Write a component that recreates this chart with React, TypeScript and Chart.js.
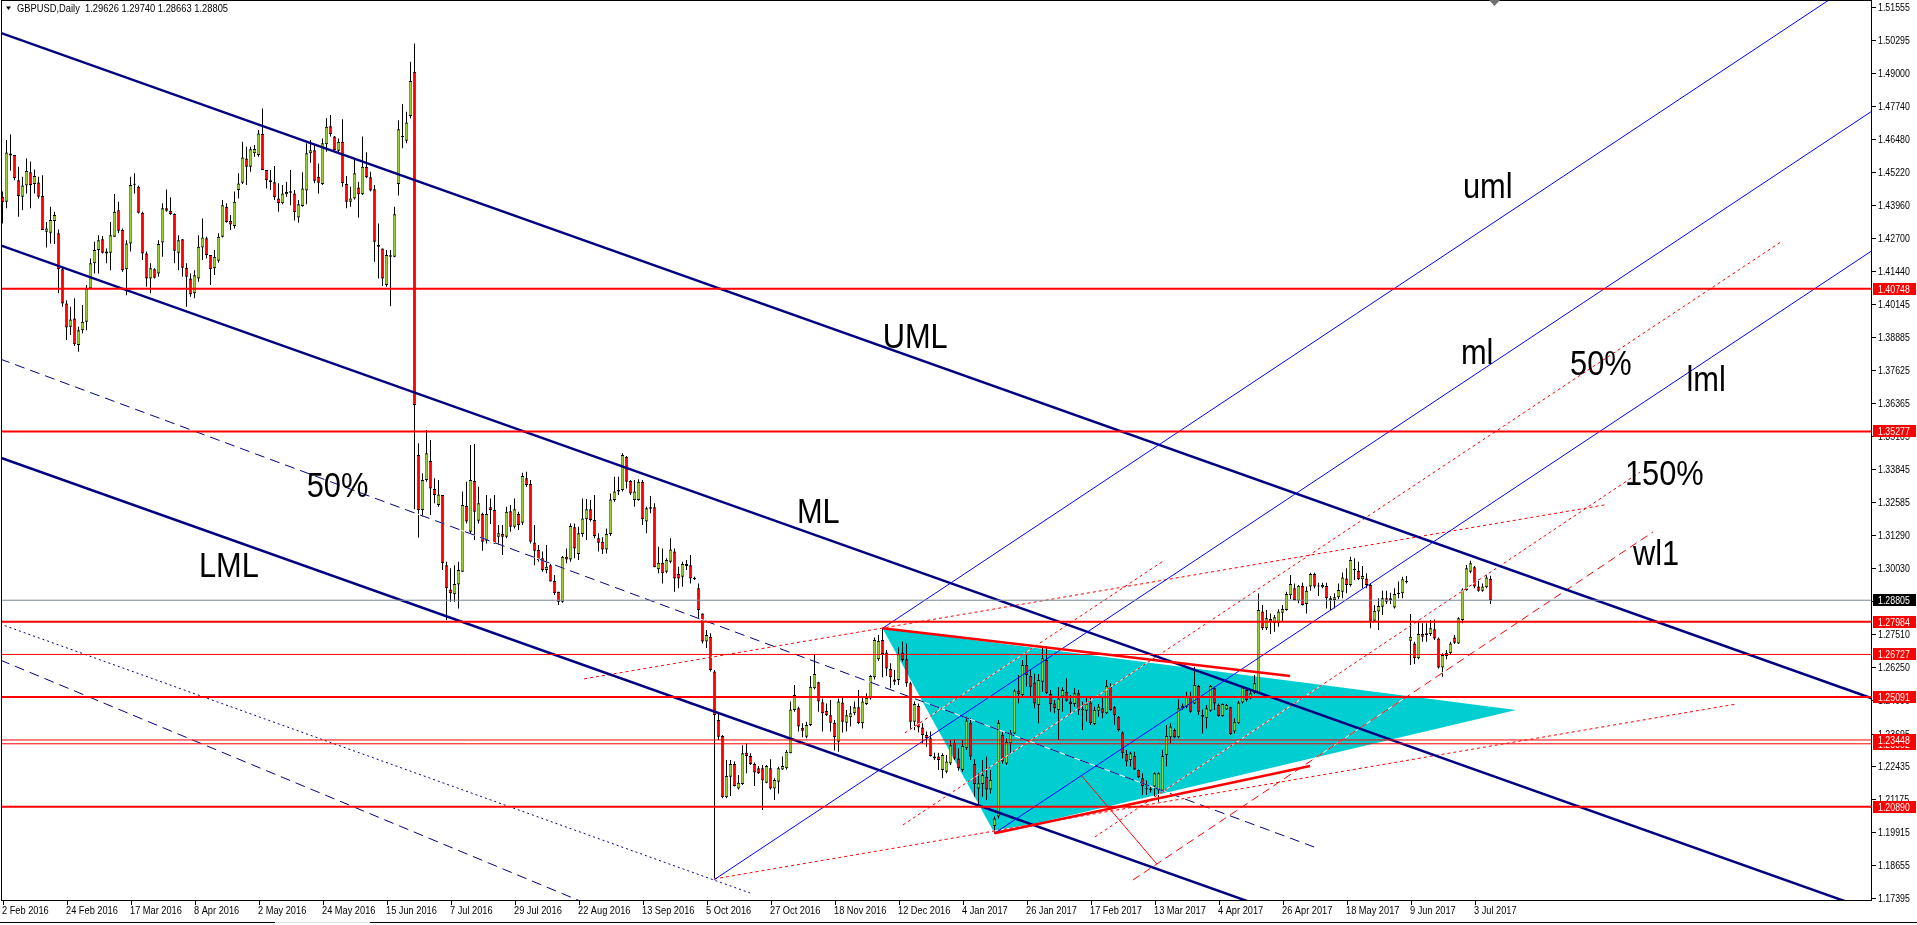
import React, { useEffect, useRef } from "react";
import { Chart, registerables } from "chart.js";

Chart.register(...registerables);

// GBPUSD daily, bar 0 = 2 Feb 2016, bar 372 = 7 Jul 2017
const symbolTitle = "GBPUSD,Daily";
const lastBarText = "1.29626 1.29740 1.28663 1.28805";

const opens = [
  1.4427, 1.4408, 1.4593, 1.4587, 1.4491, 1.4427, 1.447, 1.4521, 1.4476, 1.4482,
  1.443, 1.4293, 1.4289, 1.4334, 1.4287, 1.4149, 1.4018, 1.3929, 1.3961, 1.3859,
  1.3916, 1.3948, 1.4076, 1.4172, 1.4223, 1.4264, 1.4217, 1.4213, 1.4274, 1.4376,
  1.43, 1.4149, 1.4248, 1.4473, 1.4466, 1.4366, 1.421, 1.4114, 1.4149, 1.4133,
  1.4252, 1.4383, 1.4374, 1.4361, 1.4213, 1.4264, 1.4155, 1.4114, 1.4057, 1.4114,
  1.4233, 1.4268, 1.4204, 1.4153, 1.4182, 1.4274, 1.4389, 1.4334, 1.4315, 1.4453,
  1.4481, 1.4574, 1.4542, 1.4594, 1.4587, 1.4668, 1.453, 1.4491, 1.4483, 1.4421,
  1.4402, 1.4437, 1.4443, 1.444, 1.4348, 1.4392, 1.4451, 1.4594, 1.4606, 1.4504,
  1.4476, 1.4629, 1.4698, 1.4658, 1.4604, 1.4638, 1.4476, 1.4408, 1.4421, 1.4463,
  1.4437, 1.4542, 1.4502, 1.4456, 1.4242, 1.4229, 1.4089, 1.4197, 1.4197, 1.4476,
  1.466, 1.4642, 1.4737, 1.4907, 1.3437, 1.3226, 1.3341, 1.3414, 1.3307, 1.3246,
  1.3284, 1.3015, 1.2922, 1.2903, 1.2941, 1.299, 1.3242, 1.3143, 1.3338, 1.3185,
  1.3211, 1.3109, 1.3237, 1.3226, 1.3124, 1.3134, 1.3124, 1.3222, 1.3162, 1.3211,
  1.3178, 1.3348, 1.3326, 1.3102, 1.3073, 1.3041, 1.2996, 1.3015, 1.2954, 1.2913,
  1.2875, 1.3047, 1.3037, 1.316, 1.3058, 1.3134, 1.3191, 1.3229, 1.3188, 1.3118,
  1.3105, 1.3075, 1.3134, 1.3265, 1.3297, 1.3303, 1.3431, 1.3338, 1.3265, 1.3265,
  1.3335, 1.3182, 1.3231, 1.3237, 1.2999, 1.3024, 1.299, 1.3028, 1.3067, 1.2981,
  1.2971, 1.3019, 1.3015, 1.2967, 1.2926, 1.283, 1.2722, 1.2741, 1.2607, 1.2421,
  1.236, 1.2125, 1.2204, 1.2253, 1.2159, 1.2176, 1.2296, 1.2283, 1.2253, 1.2236,
  1.2236, 1.2181, 1.2236, 1.2159, 1.2185, 1.2232, 1.2236, 1.2294, 1.246, 1.2466,
  1.2392, 1.2357, 1.2402, 1.2543, 1.2566, 1.2489, 1.2457, 1.244, 1.2411, 1.2338,
  1.2488, 1.2411, 1.2432, 1.2447, 1.247, 1.2409, 1.2483, 1.2504, 1.2585, 1.2654,
  1.2728, 1.268, 1.2617, 1.2577, 1.2575, 1.268, 1.2654, 1.2562, 1.2415, 1.2475,
  1.2393, 1.2364, 1.2351, 1.2281, 1.2281, 1.223, 1.2223, 1.2255, 1.2334, 1.2274,
  1.223, 1.2313, 1.2411, 1.2253, 1.2159, 1.2176, 1.2204, 1.2155, 1.2015, 1.2051,
  1.2364, 1.2255, 1.2332, 1.237, 1.2534, 1.2517, 1.2632, 1.259, 1.2564, 1.2479,
  1.2568, 1.2651, 1.2521, 1.2485, 1.246, 1.2511, 1.253, 1.2492, 1.2483, 1.2524,
  1.2463, 1.2457, 1.2488, 1.2406, 1.2457, 1.2466, 1.2447, 1.2549, 1.247, 1.2434,
  1.2373, 1.2291, 1.2268, 1.2283, 1.223, 1.2198, 1.2159, 1.2159, 1.2166, 1.2153,
  1.215, 1.2287, 1.2355, 1.2383, 1.2355, 1.2466, 1.2472, 1.2511, 1.2485, 1.2552,
  1.2441, 1.2428, 1.2457, 1.2543, 1.2479, 1.2437, 1.2462, 1.247, 1.2377, 1.2409,
  1.2488, 1.2536, 1.2504, 1.2524, 1.2524, 1.2837, 1.2773, 1.2809, 1.2792, 1.2792,
  1.2833, 1.2843, 1.29, 1.2926, 1.2879, 1.2936, 1.2866, 1.2933, 1.2981, 1.2936,
  1.293, 1.2935, 1.2881, 1.2881, 1.2892, 1.2913, 1.2964, 1.2939, 1.2999, 1.2994,
  1.2961, 1.2964, 1.2939, 1.2802, 1.2837, 1.2856, 1.2888, 1.2881, 1.2853, 1.2904,
  1.2907, 1.2949, 1.2725, 1.2715, 1.2658, 1.2751, 1.2747, 1.2751, 1.2769, 1.2734,
  1.2623, 1.2667, 1.2677, 1.2738, 1.2715, 1.2805, 1.292, 1.299, 1.3007, 1.2933,
  1.2917, 1.293, 1.29626,
];

const highs = [
  1.4447, 1.4645, 1.4666, 1.4587, 1.4542, 1.4504, 1.4574, 1.4562, 1.4532, 1.4504,
  1.451, 1.4331, 1.4389, 1.437, 1.4302, 1.4159, 1.4031, 1.4006, 1.4038, 1.3929,
  1.4012, 1.4089, 1.4191, 1.4255, 1.428, 1.4277, 1.4229, 1.4331, 1.4438, 1.4408,
  1.4306, 1.4261, 1.4504, 1.4517, 1.447, 1.437, 1.4217, 1.4172, 1.4153, 1.4261,
  1.4402, 1.4455, 1.4425, 1.4363, 1.428, 1.4265, 1.4172, 1.4133, 1.4146, 1.428,
  1.4344, 1.4274, 1.4204, 1.4223, 1.4287, 1.4415, 1.4402, 1.4357, 1.4447, 1.4517,
  1.4638, 1.4619, 1.4619, 1.4626, 1.4683, 1.4766, 1.453, 1.453, 1.4545, 1.4479,
  1.4472, 1.4485, 1.453, 1.4453, 1.4415, 1.4521, 1.4632, 1.4645, 1.4626, 1.4555,
  1.4651, 1.4728, 1.4741, 1.466, 1.4651, 1.4724, 1.4507, 1.4466, 1.4574, 1.4485,
  1.4658, 1.4598, 1.4523, 1.4472, 1.4325, 1.4229, 1.4223, 1.4223, 1.4389, 1.4721,
  1.4783, 1.4753, 1.4945, 1.5015, 1.3482, 1.3367, 1.3533, 1.3495, 1.3348, 1.3341,
  1.3284, 1.3028, 1.3003, 1.3015, 1.3028, 1.3297, 1.3335, 1.3476, 1.3479, 1.3316,
  1.3216, 1.3284, 1.3271, 1.3284, 1.3169, 1.3169, 1.3239, 1.3246, 1.3271, 1.322,
  1.3369, 1.3373, 1.3341, 1.3169, 1.3092, 1.3067, 1.3092, 1.3022, 1.2977, 1.2913,
  1.305, 1.3079, 1.3175, 1.3175, 1.3162, 1.3271, 1.3269, 1.3265, 1.3284, 1.3137,
  1.3122, 1.3156, 1.329, 1.3354, 1.3354, 1.3444, 1.3433, 1.3341, 1.3341, 1.3344,
  1.3341, 1.3239, 1.328, 1.3252, 1.3086, 1.3079, 1.3041, 1.3118, 1.3079, 1.3009,
  1.3028, 1.3035, 1.3054, 1.2971, 1.2945, 1.283, 1.2766, 1.2754, 1.2613, 1.2447,
  1.2364, 1.2268, 1.2268, 1.2262, 1.2211, 1.2325, 1.2332, 1.2294, 1.2258, 1.2245,
  1.2249, 1.2249, 1.2271, 1.2198, 1.2242, 1.2281, 1.2306, 1.2492, 1.2556, 1.2472,
  1.2409, 1.2415, 1.259, 1.2674, 1.2568, 1.2504, 1.2485, 1.2498, 1.2421, 1.2504,
  1.2511, 1.246, 1.2475, 1.2492, 1.2536, 1.2513, 1.2524, 1.2594, 1.2738, 1.2747,
  1.2773, 1.269, 1.2639, 1.2613, 1.27, 1.2722, 1.2715, 1.2568, 1.2492, 1.2485,
  1.2409, 1.2377, 1.2377, 1.2296, 1.2296, 1.2294, 1.2287, 1.2345, 1.2347, 1.2313,
  1.2345, 1.2434, 1.2428, 1.2271, 1.2217, 1.2268, 1.2281, 1.223, 1.2051, 1.2421,
  1.2377, 1.2351, 1.2383, 1.2539, 1.2594, 1.2651, 1.2674, 1.2613, 1.26, 1.2598,
  1.2703, 1.2703, 1.2536, 1.2498, 1.2547, 1.2547, 1.2581, 1.2517, 1.2543, 1.2536,
  1.2492, 1.2511, 1.2508, 1.2472, 1.2483, 1.2508, 1.2575, 1.2562, 1.2475, 1.2437,
  1.2377, 1.2306, 1.23, 1.23, 1.2232, 1.2217, 1.2189, 1.2168, 1.222, 1.222,
  1.2306, 1.2402, 1.2409, 1.2389, 1.2501, 1.2485, 1.253, 1.253, 1.2626, 1.2556,
  1.2462, 1.2479, 1.2556, 1.2549, 1.2485, 1.2485, 1.2483, 1.2472, 1.2428, 1.2495,
  1.2552, 1.2547, 1.2536, 1.2594, 1.2907, 1.2862, 1.2843, 1.283, 1.2824, 1.2846,
  1.2862, 1.2913, 1.2977, 1.2945, 1.2939, 1.2948, 1.2933, 1.2986, 1.2986, 1.2948,
  1.2948, 1.2948, 1.2897, 1.2907, 1.2945, 1.2987, 1.3003, 1.3047, 1.3041, 1.3028,
  1.3012, 1.2984, 1.2945, 1.2862, 1.2888, 1.2917, 1.2917, 1.2909, 1.2926, 1.2952,
  1.2971, 1.2973, 1.2828, 1.2721, 1.2805, 1.2792, 1.2792, 1.2805, 1.2807, 1.2738,
  1.2677, 1.269, 1.2721, 1.2747, 1.2815, 1.2926, 1.3016, 1.3032, 1.3012, 1.2961,
  1.2945, 1.298, 1.2974,
];

const lows = [
  1.4325, 1.4383, 1.4527, 1.4491, 1.4351, 1.4376, 1.444, 1.4383, 1.444, 1.4421,
  1.43, 1.4233, 1.4248, 1.4246, 1.4057, 1.4006, 1.3878, 1.3897, 1.3855, 1.3833,
  1.3903, 1.3916, 1.4076, 1.4133, 1.4133, 1.421, 1.4172, 1.4146, 1.4274, 1.4287,
  1.414, 1.405, 1.4217, 1.444, 1.4363, 1.4185, 1.4082, 1.4057, 1.4114, 1.4121,
  1.4197, 1.437, 1.4357, 1.4172, 1.4146, 1.4121, 1.4006, 1.4044, 1.4038, 1.4101,
  1.4185, 1.4191, 1.4089, 1.4127, 1.4174, 1.4271, 1.4328, 1.43, 1.4306, 1.4421,
  1.4476, 1.4472, 1.4523, 1.4581, 1.4581, 1.453, 1.4459, 1.4453, 1.4415, 1.437,
  1.4399, 1.4427, 1.4395, 1.4336, 1.4328, 1.4389, 1.4399, 1.4558, 1.4479, 1.444,
  1.4472, 1.46, 1.4658, 1.4604, 1.4591, 1.4466, 1.4383, 1.4389, 1.4417, 1.4348,
  1.4434, 1.4498, 1.4447, 1.4178, 1.4114, 1.4085, 1.4082, 1.4008, 1.4195, 1.4432,
  1.4613, 1.4632, 1.4728, 1.3229, 1.3121, 1.3201, 1.3335, 1.3207, 1.3252, 1.3239,
  1.2996, 1.2805, 1.2875, 1.2875, 1.2849, 1.299, 1.3175, 1.3137, 1.3111, 1.3175,
  1.307, 1.3098, 1.3173, 1.3096, 1.3092, 1.3054, 1.3118, 1.3143, 1.3156, 1.315,
  1.3169, 1.3316, 1.3098, 1.3015, 1.3028, 1.299, 1.2984, 1.2952, 1.2901, 1.2862,
  1.2871, 1.3022, 1.3028, 1.3041, 1.3035, 1.3124, 1.3111, 1.3182, 1.3118, 1.3067,
  1.3058, 1.306, 1.3127, 1.3258, 1.3284, 1.3297, 1.3309, 1.3284, 1.3239, 1.3262,
  1.3169, 1.3137, 1.3214, 1.3007, 1.2984, 1.2945, 1.2984, 1.3022, 1.2913, 1.2926,
  1.2932, 1.2996, 1.2945, 1.2958, 1.2811, 1.2715, 1.2697, 1.2607, 1.181, 1.2345,
  1.2121, 1.2121, 1.213, 1.2166, 1.2155, 1.2172, 1.2217, 1.2249, 1.2168, 1.2214,
  1.2076, 1.2179, 1.2155, 1.2115, 1.214, 1.223, 1.2232, 1.2294, 1.2453, 1.2377,
  1.2355, 1.2351, 1.2398, 1.2539, 1.2453, 1.2377, 1.2437, 1.2377, 1.2304, 1.23,
  1.2373, 1.2377, 1.2396, 1.244, 1.2406, 1.2389, 1.2479, 1.25, 1.2577, 1.2649,
  1.2585, 1.259, 1.2543, 1.2556, 1.2556, 1.2645, 1.2549, 1.2383, 1.2383, 1.2373,
  1.2332, 1.2319, 1.2281, 1.2268, 1.223, 1.2198, 1.2217, 1.2249, 1.2268, 1.2227,
  1.2223, 1.2306, 1.2268, 1.2127, 1.2096, 1.2127, 1.2115, 1.214, 1.1987, 1.2044,
  1.2255, 1.2249, 1.2294, 1.2368, 1.2485, 1.2511, 1.2549, 1.2511, 1.2466, 1.2409,
  1.253, 1.2521, 1.2453, 1.2447, 1.2345, 1.2453, 1.2492, 1.2444, 1.2472, 1.2441,
  1.2383, 1.2415, 1.2402, 1.2402, 1.2434, 1.2428, 1.2444, 1.2457, 1.2402, 1.2377,
  1.2274, 1.2243, 1.2243, 1.223, 1.2198, 1.2134, 1.2134, 1.2143, 1.2127, 1.2108,
  1.2147, 1.2243, 1.2332, 1.2351, 1.2351, 1.246, 1.2466, 1.2449, 1.2483, 1.2441,
  1.237, 1.2389, 1.2453, 1.246, 1.2434, 1.2434, 1.246, 1.2364, 1.237, 1.2406,
  1.2485, 1.2492, 1.2501, 1.2521, 1.2521, 1.2766, 1.2766, 1.2751, 1.276, 1.2779,
  1.2798, 1.284, 1.2884, 1.2879, 1.2869, 1.286, 1.283, 1.2917, 1.2926, 1.2897,
  1.2926, 1.2849, 1.2843, 1.2849, 1.2884, 1.2888, 1.2907, 1.2933, 1.2958, 1.2958,
  1.2926, 1.2926, 1.2773, 1.2798, 1.2766, 1.2824, 1.2866, 1.2866, 1.2849, 1.2888,
  1.2888, 1.2945, 1.2632, 1.2636, 1.2654, 1.2721, 1.2721, 1.2743, 1.2728, 1.2619,
  1.2587, 1.2654, 1.2671, 1.2713, 1.2713, 1.2792, 1.2917, 1.2984, 1.2926, 1.2913,
  1.2913, 1.2926, 1.28663,
];

const closes = [
  1.4406, 1.4597, 1.4585, 1.4498, 1.443, 1.447, 1.4526, 1.4472, 1.4507, 1.4427,
  1.43, 1.4306, 1.4338, 1.4357, 1.4149, 1.4018, 1.3926, 1.3957, 1.3862, 1.3916,
  1.3948, 1.4076, 1.4172, 1.4223, 1.4261, 1.4213, 1.421, 1.428, 1.437, 1.4297,
  1.4146, 1.4248, 1.4472, 1.4476, 1.4366, 1.421, 1.4114, 1.4153, 1.4117, 1.4246,
  1.4383, 1.4374, 1.4361, 1.422, 1.4261, 1.4155, 1.4121, 1.4054, 1.4126, 1.4236,
  1.4271, 1.4204, 1.4149, 1.4197, 1.4274, 1.4395, 1.4331, 1.4321, 1.4408, 1.4478,
  1.4578, 1.4542, 1.4609, 1.461, 1.467, 1.453, 1.4491, 1.4483, 1.4425, 1.4402,
  1.444, 1.4446, 1.4448, 1.4368, 1.4399, 1.4459, 1.4594, 1.4606, 1.4489, 1.4481,
  1.4632, 1.4696, 1.4668, 1.4606, 1.4638, 1.4479, 1.4408, 1.4421, 1.4517, 1.4437,
  1.4542, 1.4502, 1.4451, 1.4255, 1.4236, 1.4114, 1.4204, 1.4203, 1.436, 1.4686,
  1.4655, 1.4712, 1.4871, 1.3629, 1.3226, 1.3341, 1.3444, 1.3309, 1.3284, 1.3286,
  1.3022, 1.2926, 1.2907, 1.2943, 1.2996, 1.3246, 1.3182, 1.3341, 1.322, 1.3252,
  1.3105, 1.3211, 1.3226, 1.3098, 1.3137, 1.3124, 1.322, 1.3162, 1.3229, 1.3169,
  1.3357, 1.3322, 1.3105, 1.307, 1.3035, 1.2996, 1.3009, 1.2952, 1.2907, 1.2875,
  1.3047, 1.3037, 1.3165, 1.3079, 1.3137, 1.3194, 1.3229, 1.3188, 1.3127, 1.3101,
  1.3075, 1.3134, 1.3267, 1.3297, 1.3303, 1.3437, 1.3335, 1.329, 1.3297, 1.3335,
  1.3191, 1.3233, 1.3237, 1.3007, 1.3024, 1.2984, 1.3035, 1.3075, 1.2964, 1.2964,
  1.3019, 1.3012, 1.2964, 1.2961, 1.2843, 1.2722, 1.2747, 1.2613, 1.244, 1.2357,
  1.2125, 1.2207, 1.2253, 1.2168, 1.2181, 1.2294, 1.2283, 1.2253, 1.222, 1.2217,
  1.2189, 1.2245, 1.2159, 1.2191, 1.2236, 1.2245, 1.23, 1.2462, 1.2517, 1.2396,
  1.238, 1.2402, 1.2549, 1.2598, 1.2492, 1.2447, 1.244, 1.2411, 1.2355, 1.2492,
  1.2415, 1.244, 1.2447, 1.247, 1.2409, 1.2492, 1.2507, 1.259, 1.2728, 1.2725,
  1.2674, 1.2619, 1.2585, 1.2568, 1.2674, 1.2651, 1.2562, 1.2415, 1.2483, 1.2393,
  1.2364, 1.2351, 1.2283, 1.2274, 1.2268, 1.2287, 1.2262, 1.2325, 1.2274, 1.2236,
  1.2322, 1.2419, 1.2281, 1.2176, 1.2179, 1.2211, 1.2155, 1.2191, 1.2044, 1.2411,
  1.2262, 1.2338, 1.2373, 1.2534, 1.2521, 1.2632, 1.2594, 1.2549, 1.2485, 1.2575,
  1.2658, 1.2524, 1.2483, 1.2466, 1.2504, 1.2536, 1.2495, 1.2483, 1.2524, 1.246,
  1.246, 1.2485, 1.2409, 1.246, 1.2472, 1.2449, 1.2552, 1.246, 1.2441, 1.2383,
  1.2294, 1.2262, 1.2294, 1.2232, 1.2202, 1.2168, 1.2156, 1.2153, 1.2217, 1.2217,
  1.2283, 1.236, 1.2396, 1.2355, 1.2466, 1.2475, 1.2511, 1.2453, 1.2556, 1.2453,
  1.2434, 1.2466, 1.2552, 1.2485, 1.2437, 1.2483, 1.2479, 1.2368, 1.2415, 1.2488,
  1.2547, 1.2498, 1.2524, 1.2562, 1.2843, 1.2773, 1.2811, 1.2798, 1.2815, 1.2837,
  1.2847, 1.2904, 1.2943, 1.2881, 1.2936, 1.2862, 1.2917, 1.2981, 1.2933, 1.2933,
  1.2939, 1.2888, 1.2888, 1.2892, 1.292, 1.2968, 1.2939, 1.3035, 1.2996, 1.2961,
  1.2973, 1.2939, 1.2802, 1.284, 1.2858, 1.2888, 1.2875, 1.2888, 1.2904, 1.2909,
  1.2961, 1.2954, 1.2741, 1.2658, 1.2751, 1.2741, 1.2754, 1.2773, 1.2734, 1.2623,
  1.2671, 1.2679, 1.2715, 1.2718, 1.2811, 1.2922, 1.3003, 1.3022, 1.2933, 1.2917,
  1.2933, 1.2968, 1.28805,
];

const dateTickBars = [0, 16, 32, 48, 64, 80, 96, 112, 128, 144, 160, 176, 192, 208, 224, 240, 256, 272, 288, 304, 320, 336, 352, 368];
const dateTickLabels = [
  "2 Feb 2016", "24 Feb 2016", "17 Mar 2016", "8 Apr 2016", "2 May 2016", "24 May 2016",
  "15 Jun 2016", "7 Jul 2016", "29 Jul 2016", "22 Aug 2016", "13 Sep 2016", "5 Oct 2016",
  "27 Oct 2016", "18 Nov 2016", "12 Dec 2016", "4 Jan 2017", "26 Jan 2017", "17 Feb 2017",
  "13 Mar 2017", "4 Apr 2017", "26 Apr 2017", "18 May 2017", "9 Jun 2017", "3 Jul 2017",
];

const priceTicks = [
  1.51555, 1.50295, 1.49, 1.4774, 1.4648, 1.4522, 1.4396, 1.427, 1.4144, 1.40145,
  1.38885, 1.37625, 1.36365, 1.35105, 1.33845, 1.32585, 1.3129, 1.3003, 1.2877,
  1.2751, 1.2625, 1.2499, 1.23695, 1.22435, 1.21175, 1.19915, 1.18655, 1.17395,
];

const majorLevels = [1.40748, 1.35277, 1.27984, 1.25091, 1.2089];
const minorLevels = [1.26727, 1.23302, 1.23448];
const bidPrice = 1.28805;

// trend objects: [bar, price, bar, price]
const channelLines = [
  [-0.5, 1.50556, 468, 1.25008],
  [-0.5, 1.42413, 468, 1.16865],
  [-0.5, 1.3427, 468, 1.08722],
];
const channelHalfLine = [-0.6, 1.38053, 327.9, 1.19345];
const lowerDashLine = [-0.6, 1.26514, 144.4, 1.17275];
const lowerDotLine = [-0.6, 1.27895, 186.9, 1.17582];
const forkLines = [
  [220, 1.2773, 457, 1.51857],
  [178, 1.181, 468, 1.47622],
  [248, 1.1987, 468, 1.4227],
];
const wedgeLines = [
  [220, 1.2773, 321.9, 1.259],
  [248, 1.1987, 326.9, 1.2245],
];
const dottedLines = [
  [177.9, 1.1812, 433.6, 1.2483],
  [145.4, 1.2579, 400.6, 1.3246],
  [225.1, 1.2019, 444.6, 1.4254],
  [225.6, 1.2372, 290.6, 1.3035],
  [273.1, 1.1973, 409.4, 1.3372],
];
const warningLine = [282.6, 1.1808, 412.6, 1.3142];
const crossLine = [269.8, 1.2207, 288.6, 1.1869];

const triangleBars = [220, 248, 378.4];
const trianglePrices = [1.2773, 1.1987, 1.246];

const labelTexts = ["UML", "ML", "LML", "50%", "uml", "ml", "50%", "lml", "150%", "wl1"];
const labelBars = [220.05, 198.6, 49.1, 76.05, 365.1, 364.6, 391.9, 421.0, 405.6, 407.6];
const labelPrices = [1.38475, 1.31766, 1.29696, 1.32763, 1.44225, 1.37862, 1.3744, 1.36827, 1.33223, 1.30156];

const BULL = "#9acd32";
const BEAR = "#ff0000";
const NAVY = "#000080";
const BLUE = "#0000ff";
const RED = "#ff0000";
const smallFont = '11px "Liberation Sans", Arial, sans-serif';

const seg = (p: number[], color: string, width: number, dash: number[] = []) => ({
  type: "line" as const,
  data: [
    { x: p[0], y: p[1] },
    { x: p[2], y: p[3] },
  ],
  borderColor: color,
  borderWidth: width,
  borderDash: dash,
  pointRadius: 0,
  fill: false,
  tension: 0,
  order: 0,
});

const hline = (v: number, color: string, width: number) => seg([-2, v, 470, v], color, width);

const squeezeText = (ctx: CanvasRenderingContext2D, s: string, x: number, y: number, sx: number) => {
  ctx.save();
  ctx.translate(x, y);
  ctx.scale(sx, 1);
  ctx.fillText(s, 0, 0);
  ctx.restore();
};

const mtDecor = {
  id: "mtDecor",
  beforeDatasetsDraw(chart: any) {
    const { ctx, chartArea: a, scales } = chart;
    ctx.save();
    ctx.beginPath();
    ctx.rect(a.left, a.top, a.right - a.left, a.bottom - a.top);
    ctx.clip();
    ctx.beginPath();
    triangleBars.forEach((b, k) => {
      const px = scales.x.getPixelForValue(b);
      const py = scales.y.getPixelForValue(trianglePrices[k]);
      if (k === 0) ctx.moveTo(px, py);
      else ctx.lineTo(px, py);
    });
    ctx.closePath();
    ctx.fillStyle = "#00ced1";
    ctx.fill();
    ctx.restore();
  },
  afterDatasetsDraw(chart: any) {
    const { ctx, scales } = chart;
    ctx.save();
    ctx.fillStyle = "#000";
    ctx.font = '35px "Liberation Sans", Arial, sans-serif';
    ctx.textBaseline = "alphabetic";
    labelTexts.forEach((t, k) => {
      squeezeText(ctx, t, scales.x.getPixelForValue(labelBars[k]), scales.y.getPixelForValue(labelPrices[k]), 0.88);
    });
    ctx.restore();
  },
  afterDraw(chart: any) {
    const { ctx, chartArea: a, scales } = chart;
    ctx.save();
    // frame
    ctx.strokeStyle = "#000";
    ctx.lineWidth = 1;
    ctx.strokeRect(a.left + 0.5, a.top + 0.5, a.right - a.left - 1, a.bottom - a.top - 1);

    ctx.font = smallFont;
    ctx.fillStyle = "#000";
    // price axis
    ctx.textBaseline = "middle";
    priceTicks.forEach((v) => {
      const py = Math.round(scales.y.getPixelForValue(v)) + 0.5;
      ctx.beginPath();
      ctx.moveTo(a.right, py);
      ctx.lineTo(a.right + 4, py);
      ctx.stroke();
      squeezeText(ctx, v.toFixed(5), a.right + 6, py + 0.5, 0.8);
    });
    // time axis
    ctx.textBaseline = "alphabetic";
    dateTickBars.forEach((b, k) => {
      const px = Math.round(scales.x.getPixelForValue(b)) + 0.5;
      ctx.beginPath();
      ctx.moveTo(px, a.bottom);
      ctx.lineTo(px, a.bottom + 4);
      ctx.stroke();
      squeezeText(ctx, dateTickLabels[k], px - 1.5, a.bottom + 13, 0.84);
    });
    // price boxes
    const box = (v: number, bg: string) => {
      const py = scales.y.getPixelForValue(v);
      ctx.fillStyle = bg;
      ctx.fillRect(a.right + 1, Math.round(py) - 6, 43, 12);
      ctx.fillStyle = "#fff";
      ctx.textBaseline = "middle";
      squeezeText(ctx, v.toFixed(5), a.right + 6, Math.round(py) + 0.5, 0.8);
    };
    majorLevels.forEach((v) => box(v, RED));
    minorLevels.forEach((v) => box(v, RED));
    box(bidPrice, "#000");

    // header
    ctx.fillStyle = "#000";
    ctx.beginPath();
    ctx.moveTo(6, 6.5);
    ctx.lineTo(11, 6.5);
    ctx.lineTo(8.5, 10);
    ctx.closePath();
    ctx.fill();
    ctx.textBaseline = "alphabetic";
    squeezeText(ctx, `${symbolTitle}  ${lastBarText}`, 17, 12, 0.85);

    // chart shift marker
    const sx = scales.x.getPixelForValue(opens.length);
    ctx.fillStyle = "#707070";
    ctx.beginPath();
    ctx.moveTo(sx - 5.5, a.top);
    ctx.lineTo(sx + 5.5, a.top);
    ctx.lineTo(sx, a.top + 6);
    ctx.closePath();
    ctx.fill();

    // window bottom edge
    ctx.fillStyle = "#000";
    ctx.fillRect(0, 922, chart.width, 1);
    ctx.fillStyle = "#e2e2e2";
    ctx.fillRect(275, 922, 95, 1);
    ctx.restore();
  },
};

export default function App() {
  const canvasRef = useRef<HTMLCanvasElement | null>(null);

  useEffect(() => {
    document.body.style.margin = "0";
    if (!canvasRef.current) return;

    const bodies = opens.map((o, i) => ({ x: i, y: [o, closes[i]] }));
    const wicks = lows.map((l, i) => ({ x: i, y: [l, highs[i]] }));
    const bodyColors = opens.map((o, i) => (closes[i] >= o ? BULL : BEAR));

    // styled lines get a white underlay, like the opaque gaps MT4 paints over the filled triangle
    const styled = [
      ...dottedLines.map((p) => [p, RED, [3, 3]]),
      [warningLine, RED, [8, 5]],
      [channelHalfLine, NAVY, [10, 6]],
      [lowerDashLine, NAVY, [10, 6]],
      [lowerDotLine, NAVY, [2, 3]],
    ] as [number[], string, number[]][];

    const lineSets = [
      ...majorLevels.map((v) => hline(v, RED, 2)),
      ...minorLevels.map((v) => hline(v, RED, 1)),
      hline(bidPrice, "#778899", 1),
      ...wedgeLines.map((p) => seg(p, RED, 2.5)),
      ...forkLines.map((p) => seg(p, BLUE, 1)),
      ...channelLines.map((p) => seg(p, NAVY, 2.5)),
      seg(crossLine, RED, 1),
      ...styled.map(([p, c, d]) => seg(p, c, 1, d)),
      ...styled.map(([p]) => seg(p, "#ffffff", 1)),
    ];

    const chart = new Chart(canvasRef.current, {
      type: "bar",
      data: {
        datasets: [
          {
            type: "bar",
            data: bodies as any,
            backgroundColor: bodyColors,
            borderColor: "#000",
            borderWidth: { top: 1, bottom: 1, left: 0.6, right: 0.6 } as any,
            borderSkipped: false,
            barThickness: 3,
            grouped: false,
            minBarLength: 1,
            inflateAmount: 0,
            order: 1,
          },
          {
            type: "bar",
            data: wicks as any,
            backgroundColor: "#000",
            borderWidth: 0,
            barThickness: 1,
            grouped: false,
            inflateAmount: 0,
            order: 2,
          },
          ...(lineSets as any[]),
        ],
      },
      options: {
        responsive: false,
        devicePixelRatio: 1,
        animation: false,
        events: [],
        layout: { padding: { left: 1, right: 45, top: 0, bottom: 24 } },
        plugins: { legend: { display: false }, tooltip: { enabled: false } },
        scales: {
          x: { type: "linear", display: false, min: -0.375, max: 467.375, offset: false, bounds: "data" },
          y: { type: "linear", display: false, min: 1.17275, max: 1.51816, beginAtZero: false, bounds: "data" },
        },
      },
      plugins: [mtDecor],
    } as any);

    return () => {
      chart.destroy();
    };
  }, []);

  return (
    <div style={{ width: 1917, height: 925 }}>
      <canvas ref={canvasRef} width={1917} height={925} style={{ display: "block" }} />
    </div>
  );
}
